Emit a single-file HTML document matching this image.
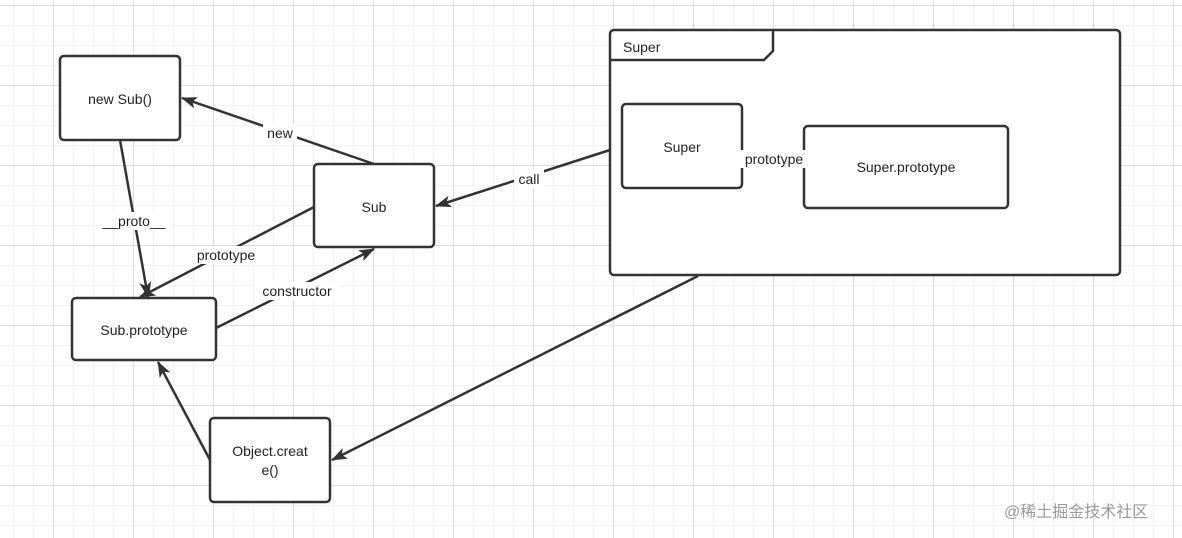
<!DOCTYPE html>
<html><head><style>
body{margin:0;width:1182px;height:538px;overflow:hidden;background:#fff;font-family:"Liberation Sans","Noto Sans CJK SC",sans-serif;}
svg{position:absolute;left:0;top:0}
text{font-family:"Liberation Sans","Noto Sans CJK SC",sans-serif;font-size:14px;fill:#222}
</style></head><body>
<svg width="1182" height="538" viewBox="0 0 1182 538">
<defs>
<pattern id="g" x="13" y="5" width="20" height="20" patternUnits="userSpaceOnUse"><path d="M0 0V20M0 0H20" stroke="#e6e6e6" stroke-width="1" fill="none"/></pattern>
<pattern id="G" x="53" y="5" width="80" height="80" patternUnits="userSpaceOnUse"><path d="M0 0V80M0 0H80" stroke="#dcdcdc" stroke-width="2" fill="none"/></pattern>
<marker id="a" markerWidth="10" markerHeight="10" refX="9" refY="5" orient="auto" markerUnits="userSpaceOnUse"><path d="M0 0L10 5L0 10L3 5Z" fill="#333"/></marker>
<marker id="b" viewBox="0 0 16 12" markerWidth="16" markerHeight="12" refX="15" refY="6" orient="auto" markerUnits="userSpaceOnUse"><path d="M0 0L16 6L0 12L4 6Z" fill="#333"/></marker>
</defs>
<rect width="1182" height="538" fill="url(#g)"/>
<rect width="1182" height="538" fill="url(#G)"/>
<g stroke="#333" stroke-width="2.5" fill="#fff">
<rect x="60" y="56" width="120" height="84" rx="4"/>
<rect x="314" y="164" width="120" height="83" rx="4"/>
<rect x="72" y="298" width="144" height="62" rx="4"/>
<rect x="210" y="418" width="120" height="84" rx="4"/>
<rect x="610" y="30" width="510" height="245" rx="4"/>
<path d="M610 60H764L773 51V30" fill="none"/>
<rect x="622" y="104" width="120" height="84" rx="4"/>
<rect x="804" y="126" width="204" height="82" rx="4"/>
</g>
<g stroke="#333" stroke-width="2.5" fill="none">
<line x1="374" y1="164" x2="182" y2="98" marker-end="url(#b)"/>
<line x1="120" y1="140" x2="148" y2="297" marker-end="url(#b)"/>
<line x1="314" y1="207" x2="140" y2="297" marker-end="url(#b)"/>
<line x1="216" y1="328" x2="374" y2="249" marker-end="url(#b)"/>
<line x1="610" y1="150" x2="436" y2="206" marker-end="url(#b)"/>
<line x1="698" y1="276" x2="332" y2="460" marker-end="url(#b)"/>
<line x1="210" y1="460" x2="158" y2="362" marker-end="url(#b)"/>
<line x1="742" y1="160" x2="804" y2="160"/>
</g>
<g fill="#fff">
<rect x="263" y="124" width="34" height="18"/>
<rect x="98" y="212" width="72" height="18"/>
<rect x="188" y="246" width="76" height="18"/>
<rect x="254" y="282" width="86" height="18"/>
<rect x="514" y="170" width="30" height="18"/>
<rect x="738" y="150" width="72" height="18"/>
</g>
<g text-anchor="middle">
<text x="120" y="104">new Sub()</text>
<text x="374" y="212">Sub</text>
<text x="144" y="335">Sub.prototype</text>
<text x="270" y="456">Object.creat</text>
<text x="270" y="475">e()</text>
<text x="682" y="152">Super</text>
<text x="906" y="172">Super.prototype</text>
<text x="280" y="138">new</text>
<text x="134" y="226">__proto__</text>
<text x="226" y="260">prototype</text>
<text x="297" y="296">constructor</text>
<text x="529" y="184">call</text>
<text x="774" y="164">prototype</text>
</g>
<text x="623" y="52">Super</text>
<text x="1004" y="517" style="font-size:16px;fill:#9a9a9a">@稀土掘金技术社区</text>
</svg>
</body></html>
